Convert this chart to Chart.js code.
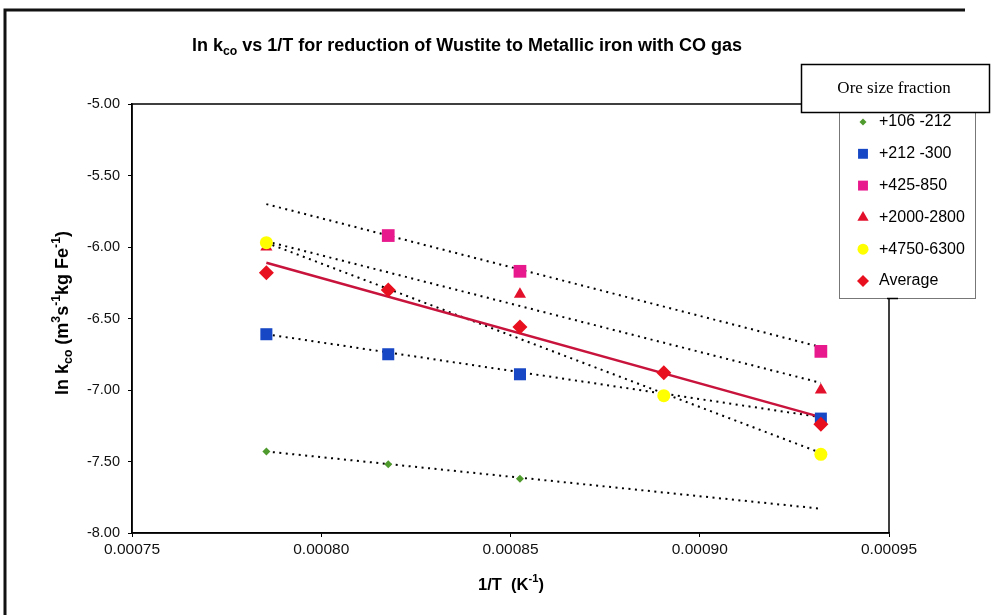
<!doctype html>
<html lang="en">
<head>
<meta charset="utf-8">
<title>ln kco vs 1/T</title>
<script src="https://cdn.jsdelivr.net/npm/chart.js@4.4.0/dist/chart.umd.min.js"></script>
<style>
  html, body { margin: 0; padding: 0; background: #fff; }
  #wrap { width: 991px; height: 615px; position: relative; }
</style>
</head>
<body>
<div id="wrap"><canvas id="myChart"></canvas></div>
<script>
// 1/T (K^-1) for 1273, 1223, 1173, 1123 and 1073 K
var invT = [0.0007855, 0.0008177, 0.0008525, 0.0008905, 0.0009320];

var sizeLabels = ['+106 -212', '+212 -300', '+425-850', '+2000-2800', '+4750-6300', 'Average'];

// ln kco (null = no point at that temperature)
var lnk106  = [-7.43, -7.52, -7.62, null, null];
var lnk212  = [-6.61, -6.75, -6.89, null, -7.20];
var lnk425  = [null, -5.92, -6.17, null, -6.73];
var lnk2000 = [-6.00, null, -6.33, null, -7.00];
var lnk4750 = [-5.97, null, null, -7.04, -7.45];
var lnkAvg  = [-6.18, -6.30, -6.56, -6.88, -7.24];

// trendline values at the first and last 1/T, same order as sizeLabels
var trendStart = [-7.43, -6.61, -5.70, -5.96, -5.97, -6.11];
var trendEnd   = [-7.83, -7.19, -6.70, -6.95, -7.44, -7.19];

var series = [lnk106, lnk212, lnk425, lnk2000, lnk4750, lnkAvg];
var colors = ['#4f9a2c', '#1747c4', '#e8198c', '#e3102c', '#ffff00', '#e8101e'];
var styles = ['rectRot', 'rect', 'rect', 'triangle', 'circle', 'rectRot'];
var radii  = [4, 8.5, 9, 7, 6.5, 7.5];
var legendRadii = [3.5, 7, 7, 6.5, 5.5, 6];

function pts(arr) {
  var out = [];
  for (var i = 0; i < invT.length; i++) {
    if (arr[i] !== null) out.push({x: invT[i], y: arr[i]});
  }
  return out;
}

var datasets = [];
// trendlines first, underneath the markers
for (var k = 0; k < series.length; k++) {
  var isAvg = k === series.length - 1;
  datasets.push({
    label: 'trend ' + sizeLabels[k],
    data: [{x: invT[0], y: trendStart[k]}, {x: invT[invT.length - 1], y: trendEnd[k]}],
    showLine: true,
    borderColor: isAvg ? '#c8143c' : '#000',
    borderWidth: isAvg ? 2.5 : 2,
    borderDash: isAvg ? [] : [2, 4.5],
    pointRadius: 0,
    order: 20 - k
  });
}
for (var k = 0; k < series.length; k++) {
  datasets.push({
    label: sizeLabels[k],
    data: pts(series[k]),
    showLine: false,
    pointStyle: styles[k],
    pointRadius: radii[k],
    backgroundColor: colors[k],
    borderColor: colors[k],
    borderWidth: 0,
    order: 10 - k
  });
}

// text with sub/superscripts: parts = [[text, 'n'|'sub'|'sup'], ...]
function richText(ctx, parts, x, y, size, weight) {
  var fam = '"Liberation Sans", Arial, sans-serif';
  function font(t) {
    var s = t === 'n' ? size : size * 0.68;
    return (weight || 'normal') + ' ' + s + 'px ' + fam;
  }
  var total = 0;
  parts.forEach(function (p) { ctx.font = font(p[1]); total += ctx.measureText(p[0]).width; });
  var cx = x - total / 2;
  ctx.textBaseline = 'middle';
  ctx.textAlign = 'left';
  parts.forEach(function (p) {
    ctx.font = font(p[1]);
    var dy = p[1] === 'sub' ? size * 0.32 : (p[1] === 'sup' ? -size * 0.38 : 0);
    ctx.fillText(p[0], cx, y + dy);
    cx += ctx.measureText(p[0]).width;
  });
}

var decor = {
  id: 'decor',
  beforeDraw: function (chart) {
    var ctx = chart.ctx;
    ctx.save();
    ctx.fillStyle = '#fff';
    ctx.fillRect(0, 0, chart.width, chart.height);
    // outer frame
    ctx.strokeStyle = '#111';
    ctx.lineWidth = 3;
    ctx.beginPath();
    ctx.moveTo(5, 615);
    ctx.lineTo(5, 10);
    ctx.lineTo(965, 10);
    ctx.stroke();
    ctx.restore();
  },
  afterDraw: function (chart) {
    var ctx = chart.ctx, a = chart.chartArea;
    ctx.save();
    // plot box
    ctx.strokeStyle = '#000';
    ctx.lineWidth = 1.5;
    ctx.strokeRect(a.left, a.top, a.right - a.left, a.bottom - a.top);

    ctx.fillStyle = '#000';
    richText(ctx, [['ln k', 'n'], ['co', 'sub'], [' vs 1/T for reduction of Wustite to Metallic iron with CO gas', 'n']],
      467, 46, 18, 'bold');
    richText(ctx, [['1/T  (K', 'n'], ['-1', 'sup'], [')', 'n']], 511, 585, 16.5, 'bold');
    ctx.save();
    ctx.translate(63, 313);
    ctx.rotate(-Math.PI / 2);
    richText(ctx, [['ln k', 'n'], ['co', 'sub'], [' (m', 'n'], ['3', 'sup'], ['s', 'n'], ['-1', 'sup'],
      ['kg Fe', 'n'], ['-1', 'sup'], [')', 'n']], 0, 0, 18, 'bold');
    ctx.restore();

    // legend
    ctx.fillStyle = '#fff';
    ctx.strokeStyle = '#777';
    ctx.lineWidth = 1;
    ctx.fillRect(839, 112, 136, 186);
    ctx.strokeRect(839.5, 112.5, 136, 186);
    ctx.strokeStyle = '#000';
    ctx.lineWidth = 1.5;
    ctx.beginPath();
    ctx.moveTo(887, 298.5);
    ctx.lineTo(898, 298.5);
    ctx.stroke();

    var base = series.length;
    for (var i = 0; i < sizeLabels.length; i++) {
      var ds = chart.data.datasets[base + i];
      var yy = 122 + i * 31.8;
      ctx.fillStyle = ds.backgroundColor;
      ctx.strokeStyle = ds.borderColor;
      Chart.helpers.drawPoint(ctx, {pointStyle: ds.pointStyle, radius: legendRadii[i], borderWidth: 0}, 863, yy);
      ctx.fillStyle = '#000';
      ctx.font = '16px "Liberation Sans", Arial, sans-serif';
      ctx.textAlign = 'left';
      ctx.textBaseline = 'middle';
      ctx.fillText(sizeLabels[i], 879, yy);
    }

    // legend header box
    ctx.fillStyle = '#fff';
    ctx.fillRect(801, 64, 188, 48);
    ctx.strokeStyle = '#000';
    ctx.lineWidth = 1.5;
    ctx.strokeRect(801.5, 64.5, 188, 48);
    ctx.fillStyle = '#000';
    ctx.font = '17px "Liberation Serif", "Times New Roman", serif';
    ctx.textAlign = 'center';
    ctx.textBaseline = 'middle';
    ctx.fillText('Ore size fraction', 894, 89);
    ctx.restore();
  }
};

new Chart(document.getElementById('myChart'), {
  type: 'scatter',
  data: { datasets: datasets },
  options: {
    responsive: true,
    maintainAspectRatio: false,
    animation: false,
    layout: { padding: { left: 0, top: 104, right: 102, bottom: 52 } },
    plugins: {
      legend: { display: false },
      title: { display: false },
      tooltip: { enabled: false }
    },
    scales: {
      x: {
        type: 'linear',
        min: 0.00075,
        max: 0.00095,
        ticks: {
          stepSize: 0.00005,
          color: '#111',
          font: { family: '"Liberation Sans", Arial, sans-serif', size: 15.5 },
          padding: 3,
          maxRotation: 0,
          callback: function (v) { return v.toFixed(5); }
        },
        grid: { drawOnChartArea: false, drawTicks: true, tickLength: 4, color: '#000' },
        border: { color: '#000', width: 1.5 },
        afterFit: function (s) { s.height = 30; }
      },
      y: {
        min: -8,
        max: -5,
        ticks: {
          stepSize: 0.5,
          color: '#111',
          font: { family: '"Liberation Sans", Arial, sans-serif', size: 14.5 },
          padding: 8,
          callback: function (v) { return v.toFixed(2); }
        },
        grid: { drawOnChartArea: false, drawTicks: true, tickLength: 4, color: '#000' },
        border: { color: '#000', width: 1.5 },
        afterFit: function (s) { s.width = 132; }
      }
    }
  },
  plugins: [decor]
});
</script>
</body>
</html>
